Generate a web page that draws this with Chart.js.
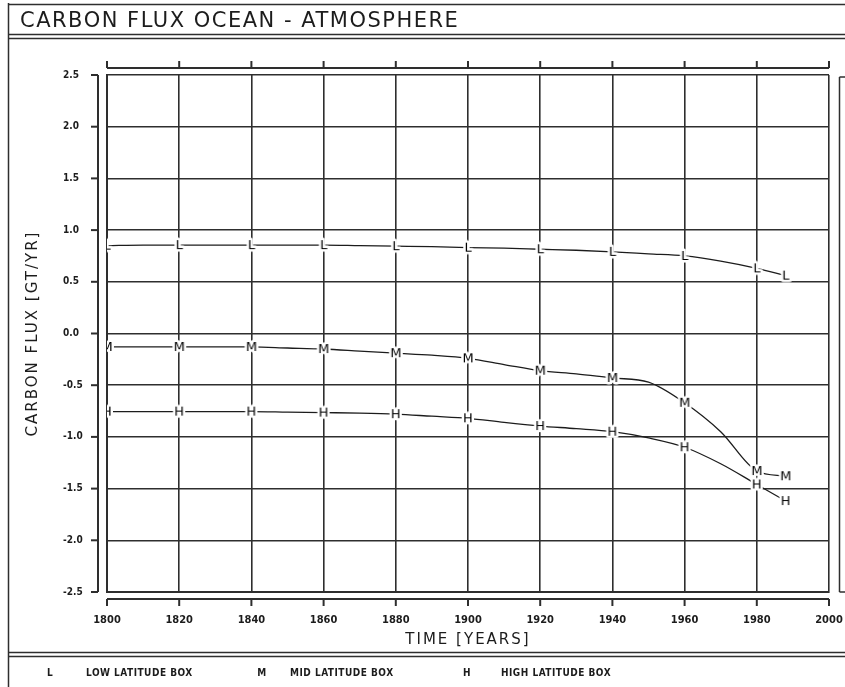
<!DOCTYPE html>
<html>
<head>
<meta charset="utf-8">
<title>Carbon flux ocean - atmosphere</title>
<script src="https://cdn.jsdelivr.net/npm/chart.js@4.4.1/dist/chart.umd.min.js"></script>
<style>
  html, body { margin: 0; padding: 0; background: #fff; }
  #wrap { width: 845px; height: 687px; }
</style>
</head>
<body>
<div id="wrap"><canvas id="flux" width="845" height="687"></canvas></div>
<script>
// Values (GT/yr), one per year below
const years = [1800, 1810, 1820, 1830, 1840, 1850, 1860, 1870, 1880, 1890,
               1900, 1910, 1920, 1930, 1940, 1950, 1960, 1970, 1980, 1988];
const lowLatitude = [0.85, 0.855, 0.855, 0.855, 0.855, 0.855, 0.855, 0.85, 0.845, 0.84,
                     0.83, 0.825, 0.815, 0.805, 0.79, 0.77, 0.75, 0.70, 0.63, 0.56];
const midLatitude = [-0.13, -0.13, -0.13, -0.13, -0.13, -0.14, -0.15, -0.17, -0.19, -0.21,
                     -0.24, -0.30, -0.36, -0.39, -0.43, -0.47, -0.67, -0.95, -1.33, -1.38];
const highLatitude = [-0.755, -0.755, -0.755, -0.755, -0.755, -0.76, -0.765, -0.77, -0.78, -0.80,
                      -0.82, -0.86, -0.895, -0.92, -0.95, -1.01, -1.10, -1.26, -1.46, -1.62];

// Years that carry a letter marker
const markerYears = [1800, 1820, 1840, 1860, 1880, 1900, 1920, 1940, 1960, 1980, 1988];

const seriesLetters = ['L', 'M', 'H'];
const seriesNames = ['LOW LATITUDE BOX', 'MID LATITUDE BOX', 'HIGH LATITUDE BOX'];

const yearTicks = [1800, 1820, 1840, 1860, 1880, 1900, 1920, 1940, 1960, 1980, 2000];
const yearLabels = ['1800', '1820', '1840', '1860', '1880', '1900', '1920', '1940', '1960', '1980', '2000'];
const fluxTicks = [-2.5, -2.0, -1.5, -1.0, -0.5, 0.0, 0.5, 1.0, 1.5, 2.0, 2.5];
const fluxLabels = ['-2.5', '-2.0', '-1.5', '-1.0', '-0.5', '0.0', '0.5', '1.0', '1.5', '2.0', '2.5'];

const chartTitle = 'CARBON FLUX OCEAN - ATMOSPHERE';
const yTitle = 'CARBON FLUX [GT/YR]';
const xTitle = 'TIME [YEARS]';

const ink = '#1c1c1c';
const gridInk = '#2e2e2e';
const thinFont = '"DejaVu Sans", "Liberation Sans", sans-serif';
const boldFont = '"DejaVu Sans Condensed", "DejaVu Sans", sans-serif';

// small canvas with a letter, used as the point style
function letterMarker(letter) {
    const c = document.createElement('canvas');
    c.width = 20;
    c.height = 20;
    const g = c.getContext('2d');
    g.font = '13px ' + thinFont;
    g.textAlign = 'center';
    g.textBaseline = 'middle';
    g.lineJoin = 'round';
    g.lineWidth = 5;
    g.strokeStyle = '#fff';
    g.strokeText(letter, 10, 10.5);
    g.fillStyle = '#000';
    g.fillText(letter, 10, 10.5);
    return c;
}

function series(values, letter) {
    const marker = letterMarker(letter);
    const isMarker = ctx => ctx.raw && markerYears.includes(ctx.raw.x);
    return {
        label: letter,
        data: years.map((y, i) => ({ x: y, y: values[i] })),
        borderColor: ink,
        borderWidth: 1.3,
        cubicInterpolationMode: 'monotone',
        pointStyle: ctx => isMarker(ctx) ? marker : false,
        pointRadius: ctx => isMarker(ctx) ? 6 : 0,
        pointHoverRadius: 0,
    };
}

// Frames, titles, legend and the detached axes
const sheet = {
    id: 'sheet',
    beforeDraw(chart) {
        const { ctx, chartArea: area, scales } = chart;
        const W = chart.width;
        ctx.save();
        ctx.fillStyle = '#fff';
        ctx.fillRect(0, 0, W, chart.height);

        ctx.strokeStyle = gridInk;
        ctx.lineWidth = 1.5;
        const line = (x1, y1, x2, y2) => {
            ctx.beginPath();
            ctx.moveTo(x1, y1);
            ctx.lineTo(x2, y2);
            ctx.stroke();
        };
        line(8.5, 3, 8.5, 687);
        line(8, 4.5, W, 4.5);
        line(8, 34.5, W, 34.5);
        line(8, 38.5, W, 38.5);
        line(8, 652.5, W, 652.5);
        line(8, 656.5, W, 656.5);
        // edge of the next panel on the right
        line(839.5, area.top + 2, 839.5, area.bottom);
        line(839.5, area.top + 2, W, area.top + 2);
        line(839.5, area.bottom, W, area.bottom);

        // detached axes
        ctx.lineWidth = 2;
        const xs = scales.x, ys = scales.y;
        const yAxisX = area.left - 9;
        line(yAxisX, area.top, yAxisX, area.bottom);
        fluxTicks.forEach(v => {
            const py = ys.getPixelForValue(v);
            line(yAxisX - 7, py, yAxisX, py);
        });
        const bottomY = area.bottom + 7;
        const topY = area.top - 7;
        line(area.left, bottomY, area.right, bottomY);
        line(area.left, topY, area.right, topY);
        yearTicks.forEach(v => {
            const px = xs.getPixelForValue(v);
            line(px, bottomY, px, bottomY + 7);
            line(px, topY, px, topY - 7);
        });

        // texts
        ctx.fillStyle = ink;
        ctx.textBaseline = 'middle';
        ctx.textAlign = 'left';
        ctx.font = '21px ' + thinFont;
        ctx.letterSpacing = '1.5px';
        ctx.fillText(chartTitle, 20, 22);

        ctx.font = '15px ' + thinFont;
        ctx.letterSpacing = '2px';
        ctx.textAlign = 'center';
        ctx.fillText(xTitle, (area.left + area.right) / 2, 640);
        ctx.save();
        ctx.translate(33, (area.top + area.bottom) / 2);
        ctx.rotate(-Math.PI / 2);
        ctx.fillText(yTitle, 0, 0);
        ctx.restore();

        ctx.font = 'bold 10px ' + boldFont;
        ctx.letterSpacing = '0.5px';
        const letterX = [50, 262, 467];
        const nameX = [86, 290, 501];
        seriesLetters.forEach((l, i) => {
            ctx.textAlign = 'center';
            ctx.fillText(l, letterX[i], 673);
            ctx.textAlign = 'left';
            ctx.fillText(seriesNames[i], nameX[i], 673);
        });
        ctx.restore();
    }
};

new Chart(document.getElementById('flux'), {
    type: 'line',
    data: {
        datasets: [
            series(lowLatitude, 'L'),
            series(midLatitude, 'M'),
            series(highLatitude, 'H'),
        ],
    },
    options: {
        responsive: false,
        animation: false,
        events: [],
        layout: { padding: { left: 63, top: 75, right: 16, bottom: 0 } },
        plugins: {
            legend: { display: false },
            tooltip: { enabled: false },
        },
        scales: {
            x: {
                type: 'linear',
                min: 1800,
                max: 2000,
                afterBuildTicks: s => { s.ticks = yearTicks.map(v => ({ value: v })); },
                afterFit: s => {
                    s.height = 95;
                    s.paddingLeft = 0;
                    s.paddingRight = 0;
                },
                grid: { color: gridInk, lineWidth: 1.6, drawTicks: false },
                border: { color: gridInk, width: 2 },
                ticks: {
                    color: ink,
                    font: { family: boldFont, size: 11, weight: 'bold' },
                    padding: 22,
                    maxRotation: 0,
                    autoSkip: false,
                    callback: (v, i) => yearLabels[i],
                },
            },
            y: {
                min: -2.5,
                max: 2.5,
                afterBuildTicks: s => { s.ticks = fluxTicks.map(v => ({ value: v })); },
                afterFit: s => {
                    s.width = 44;
                    s.paddingTop = 0;
                    s.paddingBottom = 0;
                },
                grid: { color: gridInk, lineWidth: 1.6, drawTicks: false },
                border: { color: gridInk, width: 2 },
                ticks: {
                    color: ink,
                    font: { family: boldFont, size: 10, weight: 'bold' },
                    padding: 18,
                    crossAlign: 'far',
                    autoSkip: false,
                    callback: (v, i) => fluxLabels[i],
                },
            },
        },
    },
    plugins: [sheet],
});
</script>
</body>
</html>
